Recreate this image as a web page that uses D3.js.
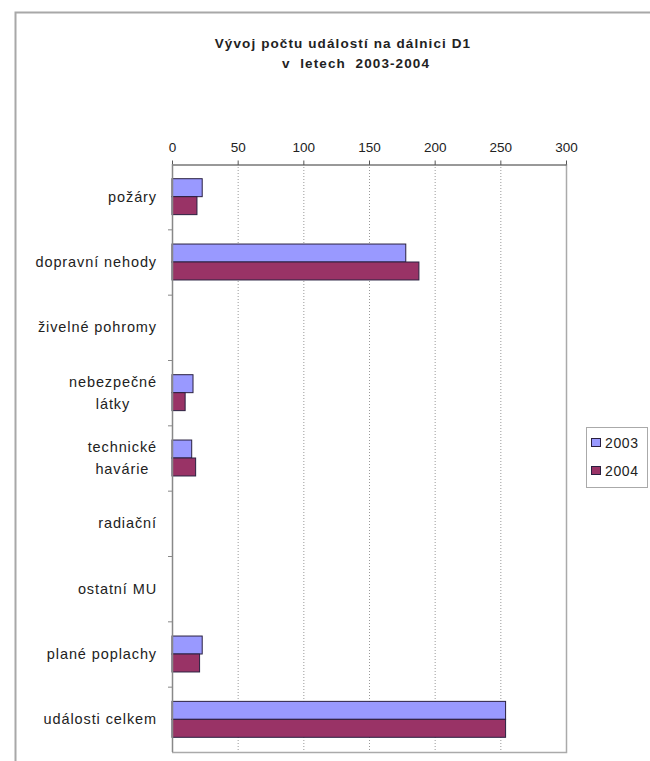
<!DOCTYPE html>
<html><head><meta charset="utf-8">
<script src="https://cdn.jsdelivr.net/npm/d3@7"></script>
<style>body{margin:0;background:#fff}svg{display:block}text{font-family:Arial,"Liberation Sans",sans-serif}</style>
</head><body>
<script>
const categories = [["požáry"],["dopravní nehody"],["živelné pohromy"],["nebezpečné","látky"],["technické","havárie"],["radiační"],["ostatní MU"],["plané poplachy"],["události celkem"]];
const series2003 = [23,178,0,16,15,0,0,23,254];
const series2004 = [19,188,0,10,18,0,0,21,254];
const seriesNames = ["2003","2004"];
const tickValues = [0,50,100,150,200,250,300];
const titleLines = ["Vývoj počtu událostí na dálnici D1","v  letech  2003-2004"];

const W=650,H=761;
const svg=d3.select("body").append("svg").attr("width",W).attr("height",H);
// outer chart frame
svg.append("rect").attr("x",15.5).attr("y",12.5).attr("width",W).attr("height",H).attr("fill","none").attr("stroke","#a8a8a8").attr("stroke-width",2);

const L=172,R=566,T=164,B=752;
const x=d3.scaleLinear().domain([0,300]).range([L,R]);
const y=d3.scaleBand().domain(d3.range(categories.length)).range([T,B]).paddingInner(0.45).paddingOuter(0.225);
const yb=d3.scaleBand().domain(d3.range(categories.length)).range([T,B]);
const ys=d3.scaleBand().domain(seriesNames).range([0,y.bandwidth()]);
const colors={"2003":"#9999ff","2004":"#993366"};

// gridlines
svg.append("g").selectAll("line").data(tickValues.filter(v=>v>0&&v<300)).join("line")
 .attr("x1",d=>x(d)+0.5).attr("x2",d=>x(d)+0.5).attr("y1",T).attr("y2",B)
 .attr("stroke","#999").attr("stroke-dasharray","1,2");
// plot border right & bottom
svg.append("path").attr("d",`M${R+0.5},${T}V${B+0.5}H${L}`).attr("fill","none").attr("stroke","#aaa").attr("stroke-width",1.5);

// bars
const data=[];
categories.forEach((c,i)=>{data.push({i,s:"2003",v:series2003[i]});data.push({i,s:"2004",v:series2004[i]});});
svg.append("g").selectAll("rect").data(data.filter(d=>d.v>0)).join("rect")
 .attr("x",x(0)).attr("y",d=>y(d.i)+ys(d.s)).attr("width",d=>x(d.v)-x(0)).attr("height",ys.bandwidth())
 .attr("fill",d=>colors[d.s]).attr("stroke","#2a2040").attr("stroke-width",1);

// top axis
const ax=svg.append("g").attr("transform",`translate(0,${T+0.5})`).call(d3.axisTop(x).tickValues(tickValues).tickSize(4).tickSizeOuter(0));
ax.select(".domain").attr("stroke","#333");
ax.selectAll(".tick line").attr("stroke","#555");
ax.selectAll("text").attr("font-size",13.5).attr("fill","#222").attr("dy","-0.4em");

// left axis
svg.append("line").attr("x1",L+0.5).attr("x2",L+0.5).attr("y1",T).attr("y2",B).attr("stroke","#888").attr("stroke-width",1.5);
svg.append("g").selectAll("line").data(d3.range(1,categories.length)).join("line")
 .attr("x1",L-4).attr("x2",L).attr("y1",d=>yb(d)+0.5).attr("y2",d=>yb(d)+0.5).attr("stroke","#888");
const labX=157;
const lab=svg.append("g").selectAll("text").data(categories).join("text")
 .attr("y",(d,i)=>yb(i)+yb.bandwidth()/2).attr("font-size",14.5).attr("letter-spacing",0.9).attr("fill","#222");
lab.each(function(d){
  const t=d3.select(this);
  const n=d.length;
  const spans=d.map((s,k)=>t.append("tspan").attr("dy",k===0?((-(n-1)/2*1.55+0.35)+"em"):"1.55em").text(s));
  if(n===1){ spans[0].attr("x",labX).attr("text-anchor","end"); }
  else {
    const mw=d3.max(spans,sp=>sp.node().getComputedTextLength());
    spans.forEach(sp=>sp.attr("x",labX-mw/2).attr("text-anchor","middle"));
  }
});

// title
const tcx=[343,356];
svg.append("g").selectAll("text").data(titleLines).join("text")
 .attr("x",(d,i)=>tcx[i]).attr("y",(d,i)=>48+i*20).attr("text-anchor","middle").attr("font-size",13.5).attr("letter-spacing",1.1).attr("font-weight","bold").attr("fill","#222")
 .attr("xml:space","preserve").style("white-space","pre").text(d=>d);

// legend
const lg=svg.append("g");
lg.append("rect").attr("x",586.5).attr("y",427.5).attr("width",61).attr("height",60).attr("fill","#fff").attr("stroke","#aaa");
seriesNames.forEach((s,k)=>{
  const cy=443+k*28;
  lg.append("rect").attr("x",591.5).attr("y",cy-4.5).attr("width",9).attr("height",8).attr("fill",colors[s]).attr("stroke","#2a2040");
  lg.append("text").attr("x",605).attr("y",cy+5).attr("font-size",14).attr("letter-spacing",0.6).attr("fill","#222").text(s);
});
</script>
</body></html>
